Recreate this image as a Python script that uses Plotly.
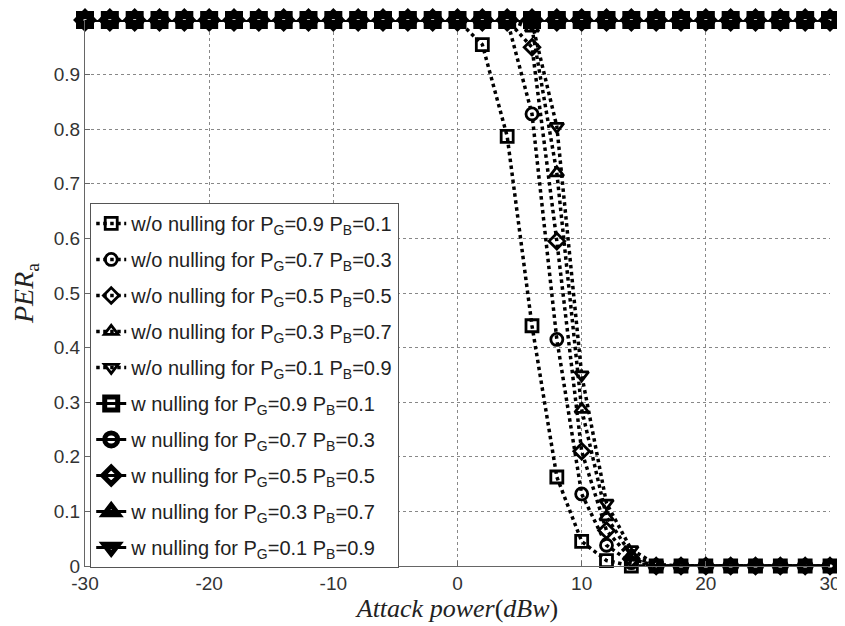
import plotly.graph_objects as go

x_vals = [-30, -28, -26, -24, -22, -20, -18, -16, -14, -12, -10, -8, -6, -4, -2,
          0, 2, 4, 6, 8, 10, 12, 14, 16, 18, 20, 22, 24, 26, 28, 30]

ones15 = [1] * 15
zeros8 = [0] * 8
# w/o nulling
wo_09 = ones15 + [1, 0.955, 0.787, 0.44, 0.163, 0.045, 0.01, 0.0] + zeros8
wo_07 = ones15 + [1, 1, 1, 0.828, 0.415, 0.132, 0.038, 0.006] + zeros8
wo_05 = ones15 + [1, 1, 1, 0.95, 0.595, 0.21, 0.065, 0.013] + zeros8
wo_03 = ones15 + [1, 1, 1, 0.985, 0.72, 0.287, 0.09, 0.02] + zeros8
wo_01 = ones15 + [1, 1, 1, 0.995, 0.805, 0.35, 0.115, 0.03] + [0.003] + [0] * 7
# w nulling
w_09 = [1] * 31
w_07 = [1] * 31
w_05 = [1] * 31
w_03 = [1] * 31
w_01 = [1] * 31

x_ticks = [-30, -20, -10, 0, 10, 20, 30]
x_ticktext = ["-30", "-20", "-10", "0", "10", "20", "30"]
y_ticks = [0, 0.1, 0.2, 0.3, 0.4, 0.5, 0.6, 0.7, 0.8, 0.9]
y_ticktext = ["0", "0.1", "0.2", "0.3", "0.4", "0.5", "0.6", "0.7", "0.8", "0.9"]

pairs = [("0.9", "0.1"), ("0.7", "0.3"), ("0.5", "0.5"), ("0.3", "0.7"), ("0.1", "0.9")]
symbols = ["square", "circle", "diamond", "triangle-up", "triangle-down"]
wo_series = [wo_09, wo_07, wo_05, wo_03, wo_01]
w_series = [w_09, w_07, w_05, w_03, w_01]

fig = go.Figure()
k = 0
for (pg, pb), sym, ys in zip(pairs, symbols, wo_series):
    fig.add_trace(go.Scatter(
        x=x_vals, y=ys, mode="lines+markers",
        name=f"w/o nulling for P<sub>G</sub>={pg} P<sub>B</sub>={pb}",
        legendgroup=f"g{k}",
        line=dict(color="black", width=3.5, dash="dot"),
        marker=dict(symbol=sym + "-open", size=12, color="black",
                    line=dict(color="black", width=2.8)),
        cliponaxis=False,
    ))
    k += 1
for (pg, pb), sym, ys in zip(pairs, symbols, w_series):
    fig.add_trace(go.Scatter(
        x=x_vals, y=ys, mode="lines+markers",
        name=f"w nulling for P<sub>G</sub>={pg} P<sub>B</sub>={pb}",
        legendgroup=f"g{k}",
        line=dict(color="black", width=3),
        marker=dict(symbol=sym + "-open", size=13, color="black",
                    line=dict(color="black", width=5)),
        cliponaxis=False,
    ))
    k += 1

fig.update_layout(
    width=845, height=626,
    margin=dict(l=77, r=18, t=12, b=68),
    plot_bgcolor="white", paper_bgcolor="white",
    font=dict(family="Liberation Sans, Arial", size=19, color="#333333"),
    showlegend=True,
    legend=dict(
        x=0.007, y=0.665, xanchor="left", yanchor="top",
        bordercolor="#555555", borderwidth=1, bgcolor="white",
        font=dict(family="Liberation Sans, Arial", size=20, color="#222222"),
        itemwidth=30, tracegroupgap=7, traceorder="grouped",
    ),
    xaxis=dict(
        range=[-30, 30], tickvals=x_ticks, ticktext=x_ticktext,
        showgrid=True, gridcolor="#888888", griddash="dot", gridwidth=1,
        showline=True, linecolor="#666666", linewidth=1,
        ticks="inside", ticklen=5, tickcolor="#666666",
        zeroline=False,
        title=dict(text="<i>Attack power</i>(<i>dBw</i>)",
                   font=dict(family="Liberation Serif, Times New Roman", size=26, color="#222222"),
                   standoff=2),
    ),
    yaxis=dict(
        range=[0, 1], tickvals=y_ticks, ticktext=y_ticktext,
        showgrid=True, gridcolor="#888888", griddash="dot", gridwidth=1,
        showline=True, linecolor="#666666", linewidth=1,
        ticks="inside", ticklen=5, tickcolor="#666666",
        zeroline=False,
        title=dict(text="<i>PER</i><sub>a</sub>",
                   font=dict(family="Liberation Serif, Times New Roman", size=28, color="#222222"),
                   standoff=14),
    ),
)

fig.write_html("out.html")
